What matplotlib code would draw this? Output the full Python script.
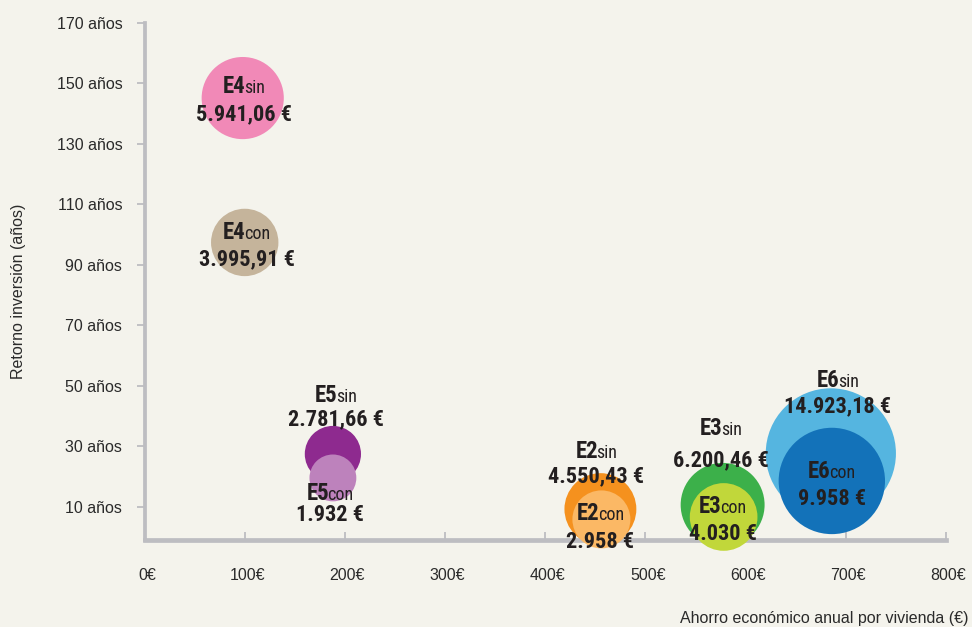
import matplotlib
matplotlib.use("Agg")
import matplotlib.pyplot as plt
from matplotlib.transforms import offset_copy, ScaledTranslation

# ---------------- data ----------------
escenarios = ["E4", "E4", "E5", "E5", "E2", "E2", "E3", "E3", "E6", "E6"]
variantes = ["sin", "con", "sin", "con", "sin", "con", "sin", "con", "sin", "con"]
ahorro = [98, 100, 188, 188, 455, 456, 577, 578, 685, 686]          # €/año
retorno = [145.1, 97.4, 27.5, 19.6, 9.3, 5.9, 10.7, 6.7, 27.7, 18.6]  # años
inversion = [5941.06, 3995.91, 2781.66, 1932, 4550.43, 2958, 6200.46, 4030, 14923.18, 9958]
inversion_txt = ["5.941,06 €", "3.995,91 €", "2.781,66 €", "1.932 €", "4.550,43 €",
                 "2.958 €", "6.200,46 €", "4.030 €", "14.923,18 €", "9.958 €"]
colores = ["#f189b7", "#c5b49b", "#8e2a8f", "#bd82bc", "#f5911e",
           "#fbb865", "#3cb04a", "#c1d73a", "#55b5e0", "#1372b9"]

xticks = [0, 100, 200, 300, 400, 500, 600, 700, 800]
xticklabels = ["0€", "100€", "200€", "300€", "400€", "500€", "600€", "700€", "800€"]
yticks = [10, 30, 50, 70, 90, 110, 130, 150, 170]
yticklabels = ["10 años", "30 años", "50 años", "70 años", "90 años",
               "110 años", "130 años", "150 años", "170 años"]

# label layout: (x centre, baseline line 1, baseline line 2) in data units
label_pos = [(99, 146.8, 137.9), (102, 98.5, 90.0), (191, 44.8, 37.1), (185, 12.3, 5.5),
             (451, 26.3, 18.0), (455, 5.7, -3.4), (575, 33.8, 23.6), (577, 8.0, -0.9),
             (692, 49.7, 41.2), (686, 19.6, 10.7)]

# ---------------- style ----------------
BG = "#f4f3ec"
AXC = "#bdbdc1"
TXT = "#2a2a2a"
plt.rcParams["font.family"] = ["Liberation Sans", "DejaVu Sans"]
COND = ["Liberation Sans Narrow", "Roboto Condensed", "DejaVu Sans"]

fig = plt.figure(figsize=(9.72, 6.27), dpi=100, facecolor=BG)
ax = fig.add_axes([0.1487, 0.1388, 0.8246, 0.8250])
ax.set_facecolor(BG)

ax.set_xlim(0, 800)
ax.set_ylim(-0.9, 170)

for s in ["top", "right"]:
    ax.spines[s].set_visible(False)
ax.spines["left"].set_color(AXC)
ax.spines["left"].set_linewidth(2.7)
ax.spines["bottom"].set_color(AXC)
ax.spines["bottom"].set_linewidth(3.4)

ax.set_xticks(xticks)
ax.set_xticklabels(xticklabels)
ax.set_yticks(yticks)
ax.set_yticklabels(yticklabels)
ax.tick_params(axis="x", direction="in", length=6, width=1.3, color=AXC,
               pad=20, labelsize=11.5, labelcolor=TXT)
ax.tick_params(axis="y", direction="out", length=6, width=1.3, color=AXC,
               pad=10, labelsize=11.5, labelcolor=TXT)
for lbl in ax.get_xticklabels():
    lbl.set_transform(lbl.get_transform() + ScaledTranslation(2.5 / 100, 0, fig.dpi_scale_trans))

fig.text(0.019, 0.535, "Retorno inversión (años)", rotation=90, ha="center", va="center",
         fontsize=11.5, color=TXT)
fig.text(0.996, 0.007, "Ahorro económico anual por vivienda (€)", ha="right", va="baseline",
         fontsize=11.5, color=TXT)

# bubbles: area proportional to inversión
sizes = [v * 0.589 for v in inversion]
for i in range(len(ahorro)):
    ax.scatter([ahorro[i]], [retorno[i]], s=[sizes[i]], color=colores[i], edgecolors="none",
               zorder=3 + i * 0.1, clip_on=False)

# labels
fig.canvas.draw()
r = fig.canvas.get_renderer()
for i in range(len(ahorro)):
    x, y1, y2 = label_pos[i]
    t1 = ax.text(x, y1, escenarios[i], ha="left", va="baseline", family=COND,
                 fontweight="bold", fontsize=16.5, color="#231f20", zorder=10, clip_on=False)
    t2 = ax.text(x, y1, variantes[i], ha="left", va="baseline", family=COND,
                 fontsize=13, color="#231f20", zorder=10, clip_on=False)
    w1 = t1.get_window_extent(r).width - 1.5
    w2 = t2.get_window_extent(r).width
    tot = w1 + w2
    t1.set_transform(offset_copy(ax.transData, fig=fig, x=-tot / 2, y=0, units="dots"))
    t2.set_transform(offset_copy(ax.transData, fig=fig, x=-tot / 2 + w1, y=0, units="dots"))
    ax.text(x, y2, inversion_txt[i], ha="center", va="baseline", family=COND,
            fontweight="bold", fontsize=16, color="#231f20", zorder=10, clip_on=False)

fig.savefig("out.png", dpi=100, facecolor=BG)
